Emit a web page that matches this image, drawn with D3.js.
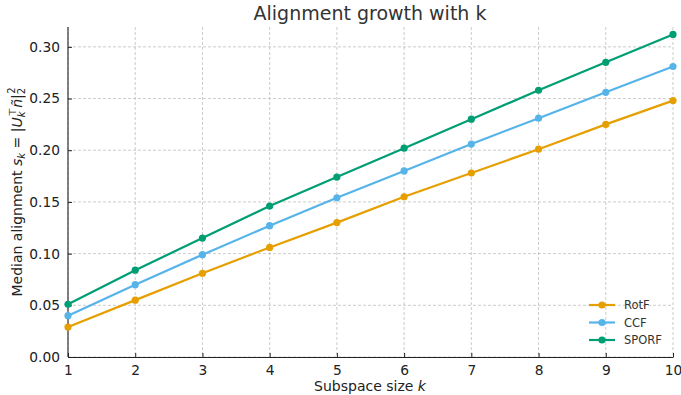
<!DOCTYPE html>
<html><head><meta charset="utf-8">
<script src="https://cdn.jsdelivr.net/npm/d3@7"></script>
<style>body{margin:0;background:#fff}svg{display:block;font-family:"DejaVu Sans",sans-serif}</style>
</head><body>
<svg id="c" width="681" height="395"></svg>
<script>
const ks = [1,2,3,4,5,6,7,8,9,10];
const rotf  = [0.029,0.055,0.081,0.106,0.130,0.155,0.178,0.201,0.225,0.248];
const ccf   = [0.040,0.070,0.099,0.127,0.154,0.180,0.206,0.231,0.256,0.281];
const sporf = [0.051,0.084,0.115,0.146,0.174,0.202,0.230,0.258,0.285,0.312];
const seriesNames = ["RotF","CCF","SPORF"];
const seriesColors = ["#E69F00","#56B4E9","#009E73"];
const yTicks = [0,0.05,0.10,0.15,0.20,0.25,0.30];

const svg = d3.select("#c");
const L=68,R=673,T=27,B=357;
const x = d3.scaleLinear().domain([1,10]).range([L,R]);
const y = d3.scaleLinear().domain([0,0.3192]).range([B,T]);

// grid
const g = svg.append("g");
g.selectAll(".vg").data(ks).enter().append("line")
 .attr("x1",d=>x(d)).attr("x2",d=>x(d)).attr("y1",T).attr("y2",B)
 .attr("stroke","#b0b0b0").attr("stroke-width",0.8).attr("stroke-dasharray","3,2").attr("opacity",0.8);
g.selectAll(".hg").data(yTicks).enter().append("line")
 .attr("x1",L).attr("x2",R).attr("y1",d=>y(d)).attr("y2",d=>y(d))
 .attr("stroke","#b0b0b0").attr("stroke-width",0.8).attr("stroke-dasharray","3,2").attr("opacity",0.8);

// axes
const xAxis = d3.axisBottom(x).tickValues(ks).tickFormat(d3.format("d")).tickSizeInner(-4).tickSizeOuter(0).tickPadding(8);
const yAxis = d3.axisLeft(y).tickValues(yTicks).tickFormat(d3.format(".2f")).tickSizeInner(-4).tickSizeOuter(0).tickPadding(8);
const xa = svg.append("g").attr("transform",`translate(0,${B})`).call(xAxis);
const ya = svg.append("g").attr("transform",`translate(${L},0)`).call(yAxis);
[xa,ya].forEach(a=>{
  a.select(".domain").attr("stroke","#222").attr("stroke-width",1.1);
  a.selectAll(".tick line").attr("stroke","#222");
  a.selectAll(".tick text").attr("font-size",13.8).attr("fill","#222").attr("font-family","DejaVu Sans");
});
ya.select(".domain").attr("d",`M0,${B}V${T}`);

// lines
const data = [rotf,ccf,sporf];
const line = d3.line().x((d,i)=>x(ks[i])).y(d=>y(d));
data.forEach((s,j)=>{
  svg.append("path").attr("d",line(s)).attr("fill","none").attr("stroke",seriesColors[j]).attr("stroke-width",2.2);
  svg.selectAll(".p"+j).data(s).enter().append("circle")
   .attr("cx",(d,i)=>x(ks[i])).attr("cy",d=>y(d)).attr("r",3.6).attr("fill",seriesColors[j]);
});

// title
svg.append("text").attr("x",370).attr("y",20).attr("text-anchor","middle")
 .attr("font-size",19).attr("fill","#333").text("Alignment growth with k");

// x label
const xl = svg.append("text").attr("x",370).attr("y",391).attr("text-anchor","middle").attr("font-size",14).attr("fill","#222");
xl.append("tspan").text("Subspace size ");
xl.append("tspan").attr("font-style","italic").text("k");

// y label
const yl = svg.append("text").attr("transform","translate(22,192) rotate(-90)").attr("text-anchor","middle").attr("font-size",14).attr("fill","#222");
yl.append("tspan").text("Median alignment ");
yl.append("tspan").attr("font-style","italic").text("s");
yl.append("tspan").attr("font-style","italic").attr("font-size",10).attr("dy",3).text("k");
yl.append("tspan").attr("dy",-3).text(" = |");
yl.append("tspan").attr("font-style","italic").text("U");
yl.append("tspan").attr("font-style","italic").attr("font-size",10).attr("dy",3).text("k");
yl.append("tspan").attr("font-size",10).attr("dy",-9).attr("dx",-5).text("⊤");
yl.append("tspan").attr("font-style","italic").attr("dy",6).text("ñ");
yl.append("tspan").text("|");
yl.append("tspan").attr("font-size",10).attr("dy",3).text("2");
yl.append("tspan").attr("font-size",10).attr("dy",-10).attr("dx",-6).text("2");

// legend
const lg = svg.append("g");
seriesNames.forEach((n,j)=>{
  const yy = 305 + j*17.5;
  lg.append("line").attr("x1",589).attr("x2",615).attr("y1",yy).attr("y2",yy).attr("stroke",seriesColors[j]).attr("stroke-width",2.2);
  lg.append("circle").attr("cx",602).attr("cy",yy).attr("r",3.6).attr("fill",seriesColors[j]);
  lg.append("text").attr("x",624).attr("y",yy+4).attr("font-size",11.5).attr("fill","#333").text(n);
});
</script>
</body></html>
